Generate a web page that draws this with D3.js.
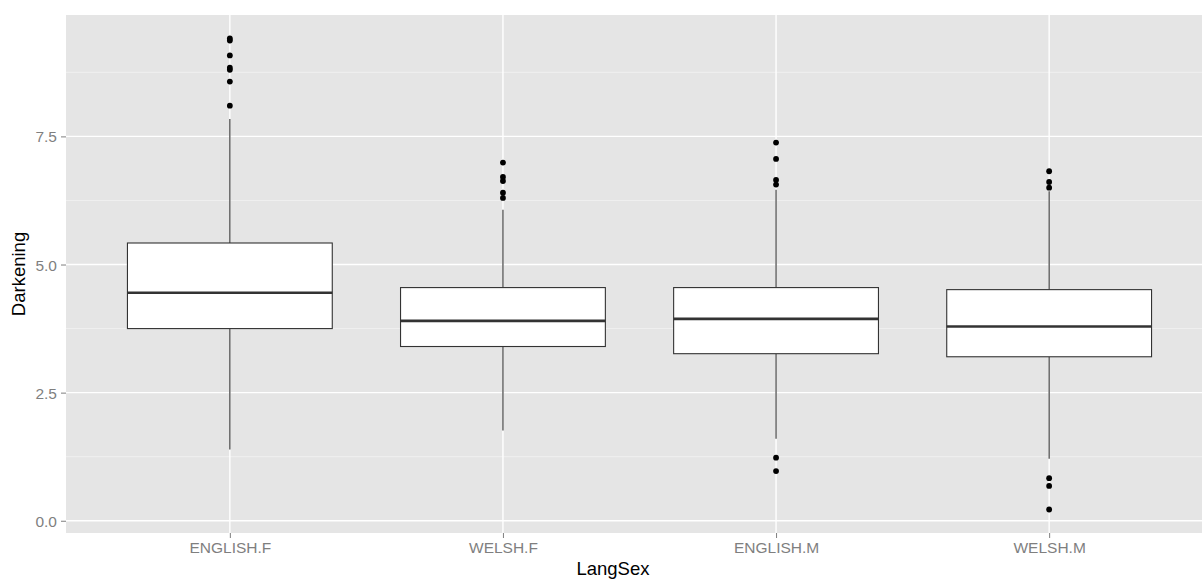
<!DOCTYPE html>
<html>
<head>
<meta charset="utf-8">
<script src="https://cdn.jsdelivr.net/npm/d3@7"></script>
<style>
  body { margin: 0; background: #fff; }
  svg { display: block; font-family: "Liberation Sans", Arial, sans-serif; }
</style>
</head>
<body>
<div class="chart"></div>
<script>
"use strict";
// groups and their box statistics
const categories = ["ENGLISH.F", "WELSH.F", "ENGLISH.M", "WELSH.M"];
const lowerWhisker = [1.39, 1.76, 1.60, 1.21];
const q1 = [3.75, 3.40, 3.26, 3.20];
const median = [4.45, 3.90, 3.94, 3.79];
const q3 = [5.42, 4.55, 4.55, 4.51];
const upperWhisker = [7.84, 6.07, 6.46, 6.43];
const outliers = [
    [9.41, 9.37, 9.08, 8.84, 8.80, 8.57, 8.10],
    [6.99, 6.71, 6.63, 6.40, 6.30],
    [7.38, 7.06, 6.65, 6.56, 1.23, 0.97],
    [6.82, 6.61, 6.50, 0.83, 0.68, 0.22]
];
const yTicks = [0, 2.5, 5, 7.5];
const yMinor = [1.25, 3.75, 6.25, 8.75];

const W = 1202, H = 581;
const margin = {top: 15, left: 66, bottom: 48};
const panelRight = 1213;   // panel runs past the right edge in the source
const fullWidth = 1226;    // width of the original figure before it was cut
const plotH = H - margin.top - margin.bottom;

const svg = d3.select(".chart").append("svg")
    .attr("width", W)
    .attr("height", H);

// discrete axis with ggplot's 0.6-unit expansion on each side
const xp = d3.scalePoint()
    .domain(categories)
    .range([margin.left, panelRight])
    .padding(0.6);
const step = xp.step();

const y = d3.scaleLinear()
    .domain([-0.239, 9.869])
    .range([margin.top + plotH, margin.top]);

// panel
svg.append("rect")
    .attr("x", margin.left).attr("y", margin.top)
    .attr("width", panelRight - margin.left).attr("height", plotH)
    .attr("fill", "#e5e5e5");

// grid
svg.append("g").selectAll("line").data(yMinor).join("line")
    .attr("x1", margin.left).attr("x2", panelRight)
    .attr("y1", d => y(d)).attr("y2", d => y(d))
    .attr("stroke", "#f2f2f2").attr("stroke-width", 0.8);
svg.append("g").selectAll("line").data(yTicks).join("line")
    .attr("x1", margin.left).attr("x2", panelRight)
    .attr("y1", d => y(d)).attr("y2", d => y(d))
    .attr("stroke", "#fff").attr("stroke-width", 1.4);
svg.append("g").selectAll("line").data(categories).join("line")
    .attr("x1", d => xp(d)).attr("x2", d => xp(d))
    .attr("y1", margin.top).attr("y2", margin.top + plotH)
    .attr("stroke", "#fff").attr("stroke-width", 1.4);

// boxes
const boxW = step * 0.75;
const g = svg.append("g").selectAll("g").data(categories).join("g");

g.append("line")
    .attr("x1", d => xp(d)).attr("x2", d => xp(d))
    .attr("y1", (d, i) => y(upperWhisker[i])).attr("y2", (d, i) => y(q3[i]))
    .attr("stroke", "#333").attr("stroke-width", 1.1);
g.append("line")
    .attr("x1", d => xp(d)).attr("x2", d => xp(d))
    .attr("y1", (d, i) => y(q1[i])).attr("y2", (d, i) => y(lowerWhisker[i]))
    .attr("stroke", "#333").attr("stroke-width", 1.1);
g.append("rect")
    .attr("x", d => xp(d) - boxW / 2)
    .attr("width", boxW)
    .attr("y", (d, i) => y(q3[i]))
    .attr("height", (d, i) => y(q1[i]) - y(q3[i]))
    .attr("fill", "#fff").attr("stroke", "#333").attr("stroke-width", 1.1);
g.append("line")
    .attr("x1", d => xp(d) - boxW / 2).attr("x2", d => xp(d) + boxW / 2)
    .attr("y1", (d, i) => y(median[i])).attr("y2", (d, i) => y(median[i]))
    .attr("stroke", "#333").attr("stroke-width", 2.6);

g.each(function(d, i) {
    d3.select(this).selectAll("circle").data(outliers[i]).join("circle")
        .attr("cx", xp(d))
        .attr("cy", v => y(v))
        .attr("r", 2.9)
        .attr("fill", "#000");
});

// axes
const yAxis = d3.axisLeft(y).tickValues(yTicks).tickFormat(d3.format(".1f"))
    .tickSize(5).tickPadding(4);
const ya = svg.append("g")
    .attr("transform", "translate(" + margin.left + ",0)")
    .call(yAxis);
ya.select(".domain").remove();
ya.selectAll("line").attr("stroke", "#7f7f7f");
ya.selectAll("text").attr("fill", "#7f7f7f").style("font-size", "15.5px")
    .attr("dy", "0.36em");

const xAxis = d3.axisBottom(xp).tickSize(5).tickPadding(4);
const xa = svg.append("g")
    .attr("transform", "translate(0," + (margin.top + plotH) + ")")
    .call(xAxis);
xa.select(".domain").remove();
xa.selectAll("line").attr("stroke", "#7f7f7f");
xa.selectAll("text").attr("fill", "#7f7f7f").style("font-size", "15.5px");

svg.append("text")
    .attr("x", fullWidth / 2)
    .attr("y", 575)
    .attr("text-anchor", "middle")
    .style("font-size", "18.5px")
    .text("LangSex");

svg.append("text")
    .attr("transform", "translate(25," + (margin.top + plotH / 2) + ") rotate(-90)")
    .attr("text-anchor", "middle")
    .style("font-size", "18.5px")
    .text("Darkening");
</script>
</body>
</html>
